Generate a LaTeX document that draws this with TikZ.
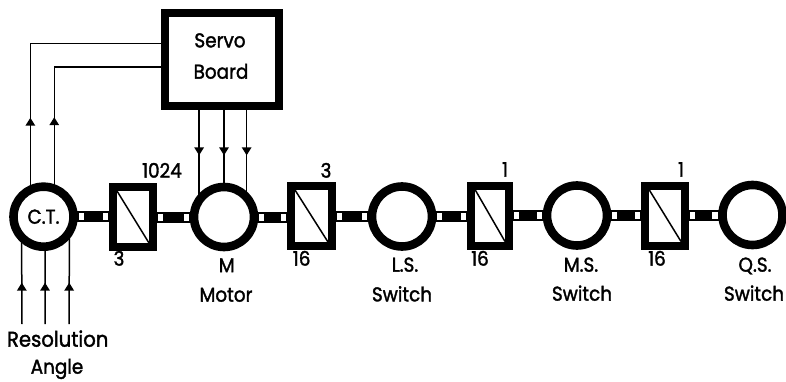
\documentclass[tikz,border=0pt]{standalone}
\usepackage{fontspec}
\setmainfont{Poppins}[FakeBold=1.7,FakeStretch=0.92]
\usetikzlibrary{calc,arrows.meta,decorations.markings}
\newcommand{\shaftlink}[2]{%
  \draw[shaftline] (#1.east) -- (#1.east -| #2.west);
  \fill[shaftgap] ($(#1.east)+(5,-3.5)$) rectangle +(5,7);
  \fill[shaftgap] ($(#1.east -| #2.west)+(-10.5,-3.5)$) rectangle +(5.5,7);
}
\tikzset{
  gear/.style={draw=black,fill=white,line width=8*.75pt,inner sep=0pt,outer sep=0pt,minimum width=#1*.75pt,minimum height=60*.75pt},
  ring/.style={circle,draw=black,fill=white,line width=8.6*.75pt,inner sep=0pt,outer sep=0pt,minimum size=60*.75pt},
  shaftline/.style={black,line width=11*.75pt},
  shaftgap/.style={fill=white},
  diag/.style={black,line width=1.5*.75pt},
  sig/.style={black,line width=1.5*.75pt},
  arrowat/.style={postaction={decorate},decoration={markings,mark=at position #1 with {\arrow{Triangle[length=8*.75pt,width=9.5*.75pt]}}}},
  lbl/.style={font=\fontsize{15}{17}\selectfont,inner sep=0pt,text height=.7em,text depth=0pt,anchor=center}
}
\begin{document}
\begin{tikzpicture}[x=.75pt,y=-.75pt]
\useasboundingbox (0,0) rectangle (786,382);
\node[ring,font=\fontsize{15}{17}\selectfont] (ct) at (43.5,216.7) {C.T.};
\node[gear=40] (b1) at (133,217) {};
\node[ring] (motor) at (224,217) {};
\node[gear=41] (b2) at (311.5,216) {};
\node[ring] (ls) at (402,216.5) {};
\node[gear=38] (b3) at (490,215.5) {};
\node[ring] (ms) at (577,215.5) {};
\node[gear=40] (b4) at (665,215.5) {};
\node[ring] (qs) at (752.5,215) {};
\node[draw=black,fill=white,line width=8.3*.75pt,inner sep=0pt,outer sep=0pt,minimum width=114*.75pt,minimum height=93*.75pt] (board) at (222,59.5) {};
\shaftlink{ct}{b1}
\shaftlink{b1}{motor}
\shaftlink{motor}{b2}
\shaftlink{b2}{ls}
\shaftlink{ls}{b3}
\shaftlink{b3}{ms}
\shaftlink{ms}{b4}
\shaftlink{b4}{qs}
\foreach \b in {b1,b2,b3,b4}{
  \draw[diag] ($(\b.north west)+(4,4)$) -- ($(\b.south east)+(-4,-4)$);
}
% Servo board feedback lines
\coordinate (fbA) at (board.west |- 0,43.7);
\coordinate (fbB) at (board.west |- 0,67);
\draw[sig,arrowat=54pt] (ct.116) |- (fbA);
\draw[sig,arrowat=53.6pt] (ct.69) |- (fbB);
% Board to motor
\foreach \a in {146,90,41}{
  \draw[sig,arrowat=37pt] (board.south -| motor.\a) -- (motor.\a);
}
% Resolution inputs
\coordinate (inA) at (22,324);
\coordinate (inB) at (45,324);
\coordinate (inC) at (69,324);
\draw[sig,arrowat=31pt] (inA) -- (ct.223);
\draw[sig,arrowat=31pt] (inB) -- (ct.273);
\draw[sig,arrowat=31pt] (inC) -- (ct.330);
% Labels
\node[lbl] (t1) at (220,42.7) {Servo};
\node[lbl] (t2) at (221,74) {Board};
\node[lbl] (t3) at (162,173) {1024};
\node[lbl] (t4) at (119,261) {3};
\node[lbl] (t5) at (226.7,267.5) {M};
\node[lbl] (t6) at (226,297) {Motor};
\node[lbl,font=\fontsize{16}{18}\selectfont] (t7) at (57.7,342) {Resolution};
\node[lbl] (t8) at (57,369) {Angle};
\node[lbl] (t9) at (326,173) {3};
\node[lbl] (t10) at (301.7,261) {16};
\node[lbl] (t11) at (405,267) {L.S.};
\node[lbl] (t12) at (402,296.7) {Switch};
\node[lbl] (t13) at (505,172) {1};
\node[lbl] (t14) at (480,261) {16};
\node[lbl] (t15) at (681,172) {1};
\node[lbl] (t16) at (657,261) {16};
\node[lbl] (t17) at (581,267) {M.S.};
\node[lbl] (t18) at (582,296) {Switch};
\node[lbl] (t19) at (755,267) {Q.S.};
\node[lbl] (t20) at (754,296) {Switch};
\end{tikzpicture}
\end{document}
